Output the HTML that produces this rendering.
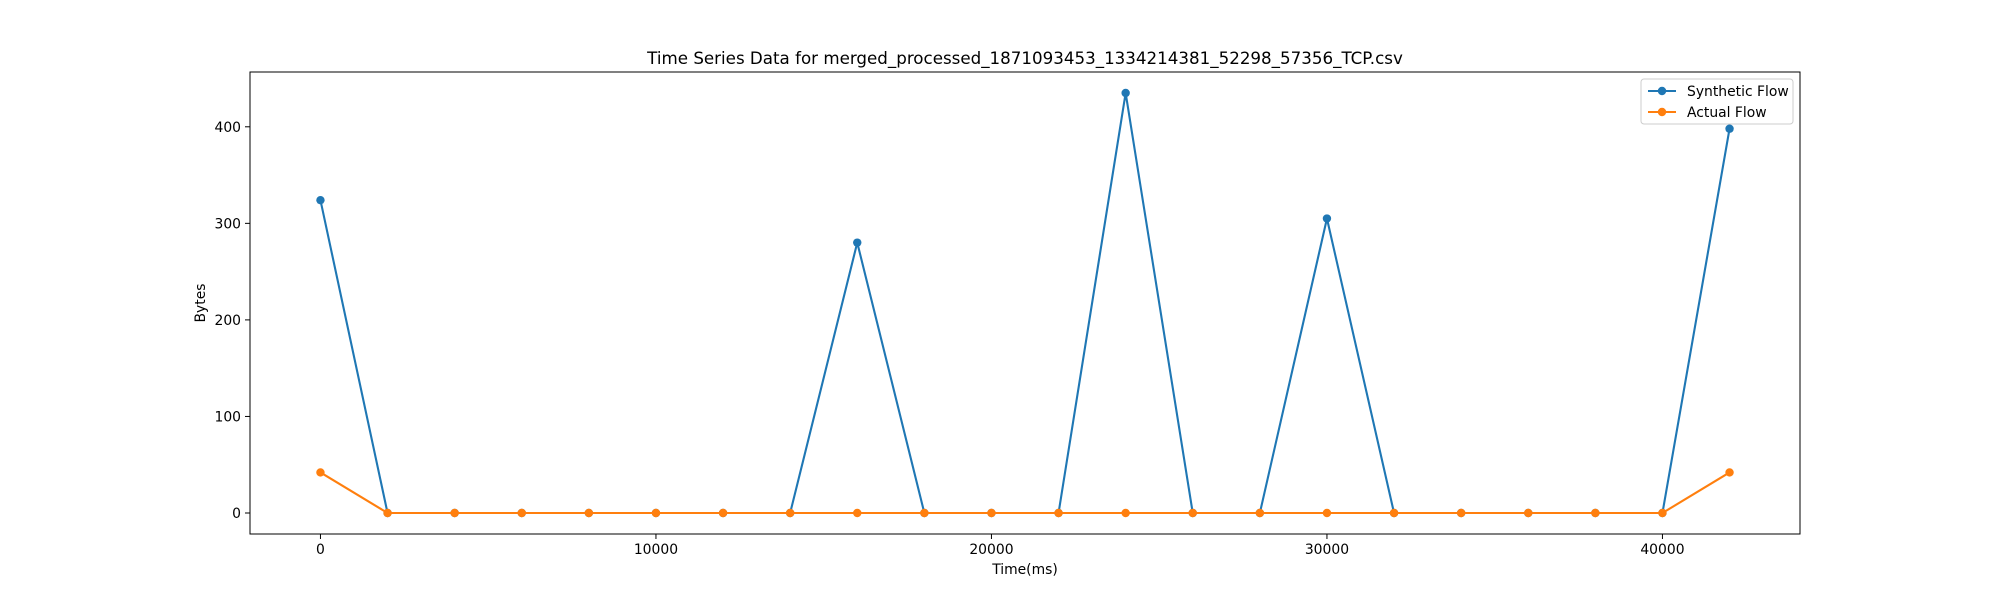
<!DOCTYPE html>
<html><head><meta charset="utf-8"><style>
body{margin:0;background:#fff;}
svg{display:block;font-family:"DejaVu Sans","Liberation Sans",sans-serif;}
</style></head><body>
<svg id="chart" width="2000" height="600" viewBox="0 0 2000 600" xmlns="http://www.w3.org/2000/svg">
<rect width="2000" height="600" fill="#fff"/>
<text x="1025" y="64" text-anchor="middle" font-size="16.7">Time Series Data for merged_processed_1871093453_1334214381_52298_57356_TCP.csv</text>
<g id="grid"></g>
<g id="series"></g>
<rect x="250" y="72" width="1550" height="462" fill="none" stroke="#000" stroke-width="1"/>
<g id="xticks"></g>
<g id="yticks"></g>
<text x="1025" y="574" text-anchor="middle" font-size="13.9">Time(ms)</text>
<text transform="translate(205,303) rotate(-90)" text-anchor="middle" font-size="13.9">Bytes</text>
<g>
<rect x="1641" y="79" width="152" height="45" rx="3" fill="#fff" fill-opacity="0.8" stroke="#ccc"/>
<g>
<line x1="1648" y1="91" x2="1676" y2="91" stroke="#1f77b4" stroke-width="2"/>
<circle cx="1662" cy="91" r="4.2" fill="#1f77b4"/>
<text x="1687" y="96" font-size="13.9">Synthetic Flow</text></g>
<g>
<line x1="1648" y1="112" x2="1676" y2="112" stroke="#ff7f0e" stroke-width="2"/>
<circle cx="1662" cy="112" r="4.2" fill="#ff7f0e"/>
<text x="1687" y="117" font-size="13.9">Actual Flow</text></g>
</g>
</svg>
<script>
const times=[0,2000,4000,6000,8000,10000,12000,14000,16000,18000,20000,22000,24000,26000,28000,30000,32000,34000,36000,38000,40000,42000];
const syntheticFlow=[324,0,0,0,0,0,0,0,280,0,0,0,435,0,0,305,0,0,0,0,0,398];
const actualFlow=[42,0,0,0,0,0,0,0,0,0,0,0,0,0,0,0,0,0,0,0,0,42];
const xTickLabels=[0,10000,20000,30000,40000];
const yTickLabels=[0,100,200,300,400];
const NS="http://www.w3.org/2000/svg";
const L=250,R=1800,T=72,B=534;
const xmin=Math.min(...times),xmax=Math.max(...times),xpad=(xmax-xmin)*0.05;
const allY=syntheticFlow.concat(actualFlow);
const ymin=Math.min(...allY),ymax=Math.max(...allY),ypad=(ymax-ymin)*0.05;
const xs=v=>L+(v-(xmin-xpad))/((xmax+xpad)-(xmin-xpad))*(R-L);
const ys=v=>B-(v-(ymin-ypad))/((ymax+ypad)-(ymin-ypad))*(B-T);
function mk(t,a,p){const e=document.createElementNS(NS,t);for(const k in a)e.setAttribute(k,a[k]);p.appendChild(e);return e;}
const xg=document.getElementById('xticks'),yg=document.getElementById('yticks'),sg=document.getElementById('series');
xTickLabels.forEach(v=>{const g=mk('g',{},xg);


mk('line',{x1:xs(v),x2:xs(v),y1:B,y2:B+5,stroke:'#000','stroke-width':1},g);
const t=mk('text',{x:xs(v),y:B+20,'text-anchor':'middle','font-size':13.9},g);t.textContent=v;});
yTickLabels.forEach(v=>{const g=mk('g',{},yg);


mk('line',{x1:L-5,x2:L,y1:ys(v),y2:ys(v),stroke:'#000','stroke-width':1},g);
const t=mk('text',{x:L-9,y:ys(v)+5,'text-anchor':'end','font-size':13.9},g);t.textContent=v;});
function drawSeries(vals,color,name){const g=mk('g',{},sg);


const pts=vals.map((v,i)=>xs(times[i])+','+ys(v)).join(' ');
const pl=mk('polyline',{points:pts,fill:'none',stroke:color,'stroke-width':2.1,'stroke-linejoin':'round'},g);


vals.forEach((v,i)=>{const c=mk('circle',{cx:xs(times[i]),cy:ys(v),r:4.2,fill:color},g);

});}
drawSeries(syntheticFlow,'#1f77b4','synthetic-flow');
drawSeries(actualFlow,'#ff7f0e','actual-flow');
</script>
</body></html>
